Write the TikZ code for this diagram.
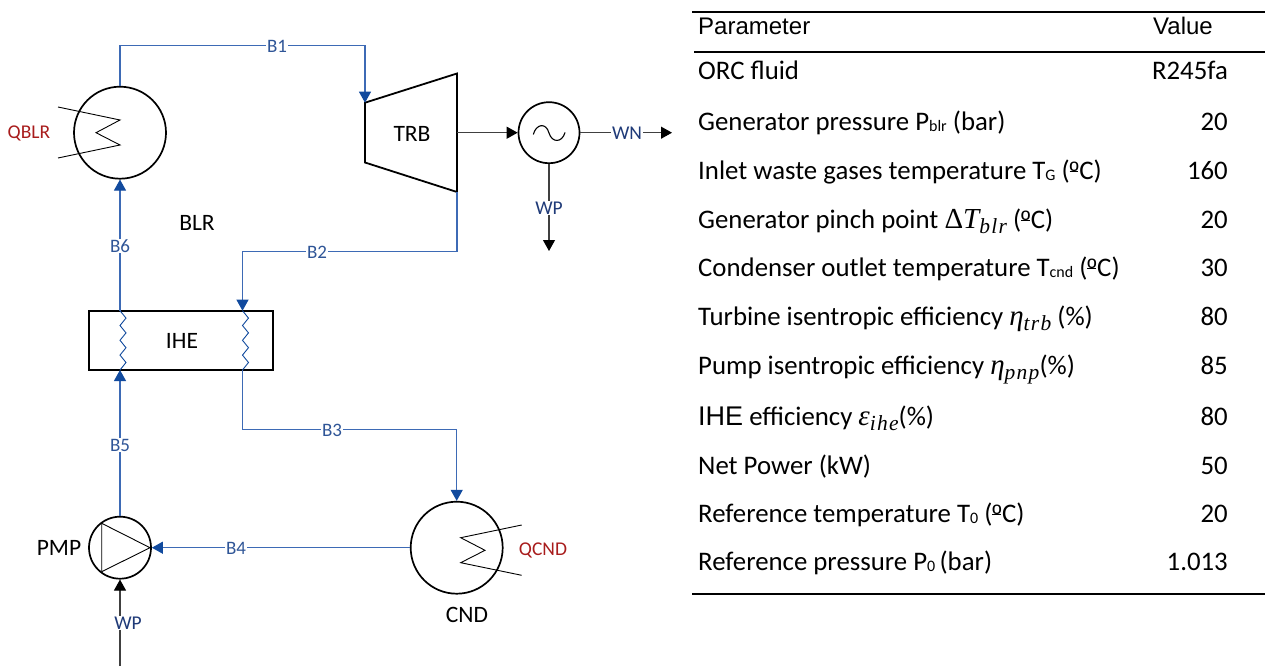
\documentclass[tikz,border=0pt]{standalone}
\usepackage{fontspec}
\setmainfont{Carlito}
\newfontfamily\arialf{Liberation Sans}
\newfontfamily\mfont{Liberation Serif}
\newfontfamily\mfonts[LetterSpace=6]{Liberation Serif}
\usetikzlibrary{arrows.meta}
\definecolor{flow}{HTML}{3D6AB5}
\definecolor{tipblue}{HTML}{114A9E}
\definecolor{lblblue}{HTML}{2F5597}
\definecolor{lblnavy}{HTML}{1F3A78}
\definecolor{lblred}{HTML}{A81C1C}
\definecolor{pw}{HTML}{404040}
\newcommand{\sbs}[1]{\raisebox{-1.5pt}{\fontsize{16}{16}\selectfont #1}}
\newcommand{\msub}[1]{\raisebox{-5pt}{\mfonts\itshape\fontsize{21.5}{21.5}\selectfont #1}}
\newcommand{\mbig}[1]{{\mfont\itshape\fontsize{29}{31}\selectfont #1}}
\newcommand{\ordo}{\rlap{\rule[7.5pt]{8.5pt}{0.9pt}}{\arialf\fontsize{25}{28}\selectfont º}\kern0.6pt}
\tikzset{
  unit/.style={circle,draw=black,line width=1.7pt,inner sep=0pt,fill=white},
  flowline/.style={draw=flow,line width=1.1pt},
  flowarrow/.style={flowline,-{Triangle[length=11pt,width=12pt,color=tipblue]}},
  powerarrow/.style={draw=pw,line width=1.1pt,-{Triangle[length=11pt,width=12pt,color=black]}},
  thinline/.style={draw=black,line width=0.9pt,line join=miter},
  zig/.style={draw=tipblue,line width=0.9pt},
  eqlabel/.style={font=\fontsize{23.5}{28}\selectfont,text=black,inner sep=0pt},
  lblB/.style={font=\fontsize{19}{22}\selectfont,text=lblblue,fill=white,inner sep=1pt},
  lblW/.style={font=\fontsize{19.5}{22}\selectfont,text=lblnavy,fill=white,inner sep=1pt},
  lblQ/.style={font=\fontsize{19.5}{22}\selectfont,text=lblred,inner sep=0pt},
  rowL/.style={anchor=base west,inner sep=0pt,font=\fontsize{26.8}{31}\selectfont},
  rowR/.style={anchor=base east,inner sep=0pt,font=\fontsize{26.8}{31}\selectfont},
  rule/.style={draw=black,line width=2pt},
}
\begin{document}
\begin{tikzpicture}[x=1pt,y=-1pt]
\useasboundingbox (0,0) rectangle (1265,666);
% units
\node[unit,minimum size=92pt] (blr) at (120,132.7) {};
\node[unit,minimum size=92pt] (cnd) at (456.7,547.7) {};
\node[unit,minimum size=61pt] (gen) at (549,132.7) {};
\node[unit,minimum size=62pt] (pmp) at (120,547.7) {};
\node[draw=black,line width=2pt,fill=white,inner sep=0pt,minimum width=183.5pt,minimum height=59.5pt] (ihe) at (181,340.4) {};
\coordinate (t1) at (365,102.7);
\coordinate (t2) at (457,73.5);
\coordinate (t3) at (457,192);
\coordinate (t4) at (365,162.5);
\coordinate (tout) at (457,132.7);
\draw[black,line width=1.8pt,line join=miter] (t1) -- (t2) -- (t3) -- (t4) -- cycle;
% inner symbols
\draw[thinline] (58,107) -- (120,120) -- (96,132.7) -- (120,145) -- (58,158);
\draw[thinline] (521.7,525) -- (460.7,537.7) -- (485,550.3) -- (460.7,562.7) -- (521.7,575.3);
\draw[thinline] (150,547.7) -- (101.7,523.3) -- (101.7,571.7) -- cycle;
\draw[black,line width=1.1pt] (533.3,134.5) .. controls (536,124) and (546,122) .. (549,133) .. controls (552,143) and (562,143) .. (565,132.5);
% exchanger zigzags
\coordinate (lt) at (120,310.7);
\coordinate (lb) at (120,370);
\coordinate (rt) at (242.5,310.7);
\coordinate (rb) at (242.5,370);
\draw[zig] (lt) -- ++(6,7.4) -- ++(-6,7.4) -- ++(6,7.4) -- ++(-6,7.4) -- ++(6,7.4) -- ++(-6,7.4) -- ++(6,7.4) -- (lb);
\draw[zig] (rt) -- ++(6,7.4) -- ++(-6,7.4) -- ++(6,7.4) -- ++(-6,7.4) -- ++(6,7.4) -- ++(-6,7.4) -- ++(6,7.4) -- (rb);
% flow connectors
\draw[flowarrow] (blr.north) |- (277,45.7) -| (t1);
\draw[flowarrow] (t3) |- (317,251.5) -| (rt);
\draw[flowarrow] (rb) |- (332,429.5) -| (cnd.north);
\draw[flowarrow] (cnd.west) -- (pmp.east);
\draw[flowarrow] (pmp.north) -- (lb);
\draw[flowarrow] (lt) -- (blr.south);
% power connectors
\coordinate (wnend) at (672,132.7);
\coordinate (wpend) at (549,251);
\coordinate (wpin) at (120,666);
\draw[powerarrow] (tout) -- (gen.west);
\draw[powerarrow] (gen.east) -- (wnend);
\draw[powerarrow] (gen.south) -- (wpend);
\draw[powerarrow] (wpin) -- (pmp.south);
% stream labels
\node[lblB] (b1) at (277,46) {B1};
\node[lblB] (b2) at (317,252) {B2};
\node[lblB] (b3) at (332,430) {B3};
\node[lblB] (b4) at (236,548) {B4};
\node[lblB] (b5) at (120,445) {B5};
\node[lblB] (b6) at (120,246) {B6};
\node[lblW] (wn) at (627,133) {WN};
\node[lblW] (wp1) at (549,208) {WP};
\node[lblW] (wp2) at (128,623) {WP};
\node[lblQ] (qblr) at (29,133.5) {QBLR};
\node[lblQ] (qcnd) at (543,550.5) {QCND};
% equipment labels
\node[eqlabel] (lblr) at (197,223) {BLR};
\node[eqlabel] (ltrb) at (412,134) {TRB};
\node[eqlabel] (lihe) at (182,340.5) {IHE};
\node[eqlabel] (lpmp) at (59,548) {PMP};
\node[eqlabel] (lcnd) at (467,615) {CND};
% table rules
\coordinate (r1a) at (692,12); \coordinate (r1b) at (1265,12);
\coordinate (r2a) at (694,52.5); \coordinate (r2b) at (1265,52.5);
\coordinate (r3a) at (692,594); \coordinate (r3b) at (1265,594);
\draw[rule] (r1a) -- (r1b);
\draw[rule] (r2a) -- (r2b);
\draw[rule] (r3a) -- (r3b);
% table
\node[rowL,font=\arialf\fontsize{24}{28}\selectfont] (h1) at (698,34.5) {Parameter};
\node[anchor=base west,inner sep=0pt,font=\arialf\fontsize{24}{28}\selectfont] (h2) at (1153,34.5) {Value};
\node[rowL] (p1) at (698,80) {ORC fluid};
\node[rowR] (v1) at (1228,80) {R245fa};
\node[rowL] (p2) at (698,130) {Generator pressure P\sbs{blr} (bar)};
\node[rowR] (v2) at (1228,130) {20};
\node[rowL] (p3) at (698,179) {Inlet waste gases temperature T\sbs{G} (\ordo C)};
\node[rowR] (v3) at (1228,179) {160};
\node[rowL] (p4) at (698,228) {Generator pinch point {\mfont\fontsize{29}{31}\selectfont Δ}\mbig{T}\msub{blr} (\ordo C)};
\node[rowR] (v4) at (1228,228) {20};
\node[rowL] (p5) at (698,276) {Condenser outlet temperature T\sbs{cnd} (\ordo C)};
\node[rowR] (v5) at (1228,276) {30};
\node[rowL] (p6) at (698,325) {Turbine isentropic efficiency \mbig{η}\msub{trb} (\%)};
\node[rowR] (v6) at (1228,325) {80};
\node[rowL] (p7) at (698,374) {Pump isentropic efficiency \mbig{η}\msub{pnp}(\%)};
\node[rowR] (v7) at (1228,374) {85};
\node[rowL] (p8) at (698,425) {{\arialf\fontsize{27}{31}\selectfont IHE} efficiency \mbig{ε}\msub{ihe}(\%)};
\node[rowR] (v8) at (1228,425) {80};
\node[rowL] (p9) at (698,474) {Net Power (kW)};
\node[rowR] (v9) at (1228,474) {50};
\node[rowL] (p10) at (698,522) {Reference temperature T\sbs{0} (\ordo C)};
\node[rowR] (v10) at (1228,522) {20};
\node[rowL] (p11) at (698,570) {Reference pressure P\sbs{0}\,(bar)};
\node[rowR] (v11) at (1228,570) {1.013};
\end{tikzpicture}
\end{document}
